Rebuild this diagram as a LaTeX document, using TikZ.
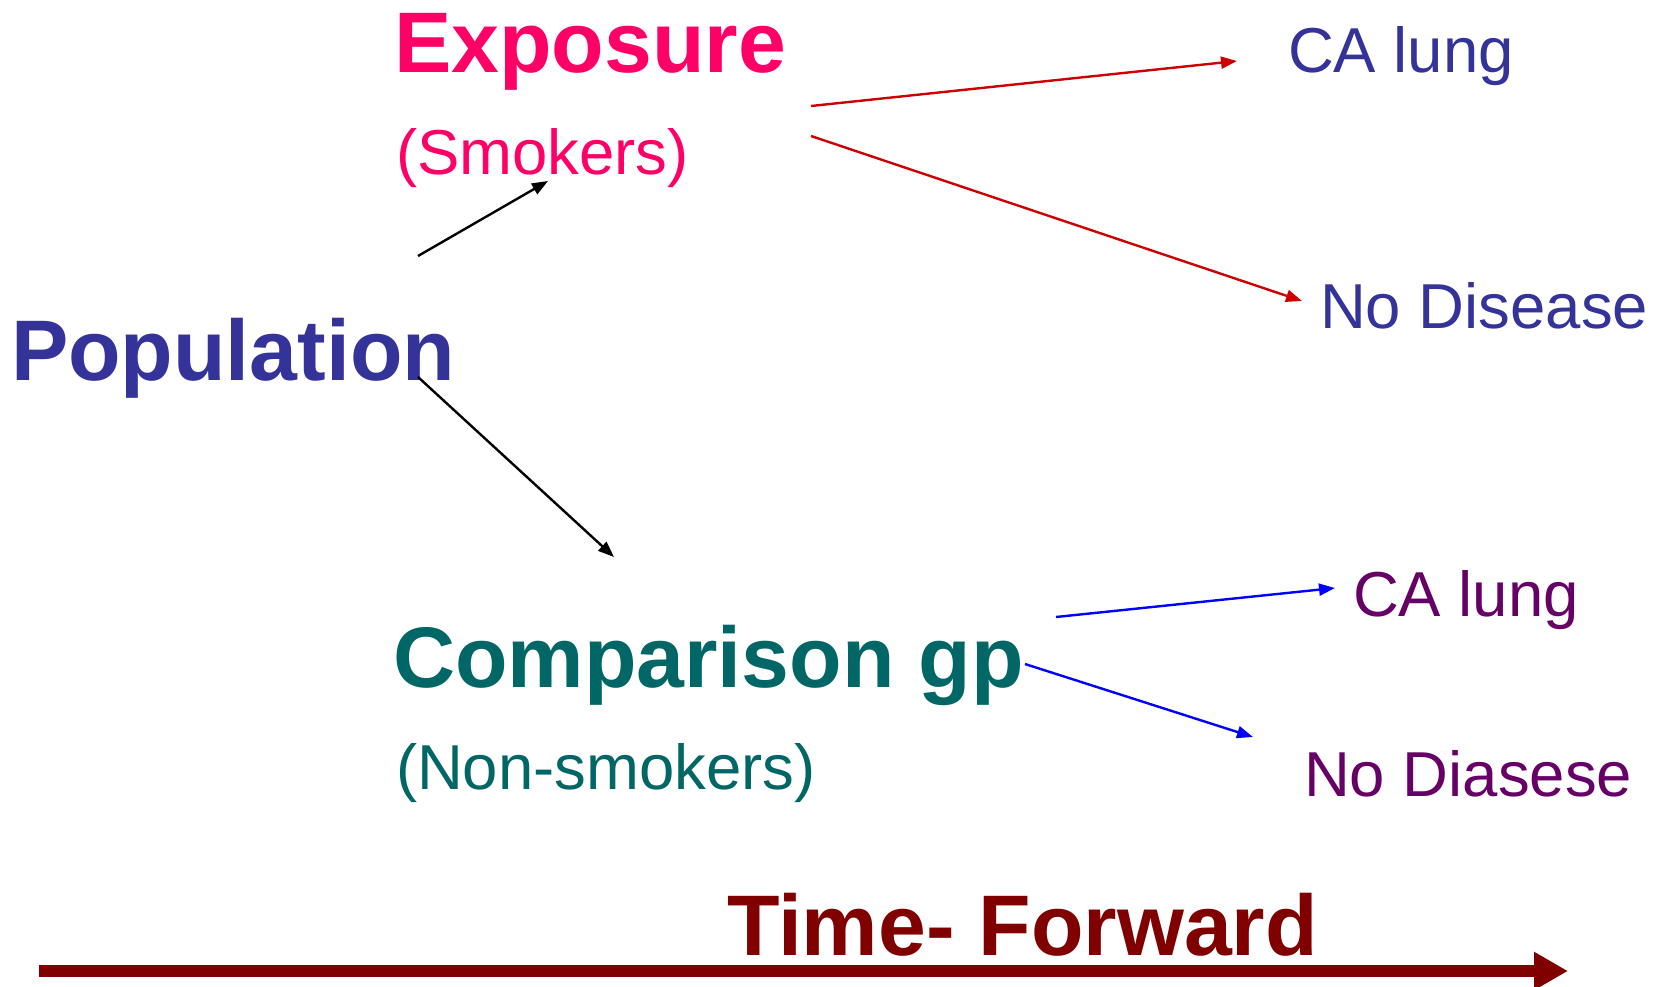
\documentclass[tikz,border=0pt]{standalone}
\usepackage{fontspec}
\setmainfont{Liberation Sans}
\usetikzlibrary{arrows.meta}
\definecolor{expcol}{HTML}{FF0066}
\definecolor{popcol}{HTML}{333399}
\definecolor{cmpcol}{HTML}{006666}
\definecolor{outcol}{HTML}{660066}
\definecolor{timecol}{HTML}{800000}
\definecolor{redarrow}{HTML}{CC0000}
\definecolor{bluearrow}{HTML}{0000FF}
\tikzset{
  lbl/.style={anchor=base west, inner sep=0pt, outer sep=0pt},
  bigbold/.style={lbl, font=\fontsize{86}{100}\selectfont\bfseries},
  sub/.style={lbl, font=\fontsize{63.5}{76}\selectfont},
  outcome/.style={lbl, font=\fontsize{63.5}{76}\selectfont},
  thinarrow/.style={line width=2.4pt, -{Triangle[length=16pt,width=12pt]}},
  timearrow/.style={timecol, line width=12pt, -{Triangle[length=34pt,width=36pt]}}
}
\begin{document}
\begin{tikzpicture}[x=1pt,y=-1pt]
\useasboundingbox (0,0) rectangle (1663,987);

% labels
\node[bigbold, text=popcol] (pop) at (11,380) {Population};
\node[bigbold, text=expcol] (expo) at (394,73) {Exposure};
\node[sub, text=expcol] (smk) at (396,175) {(Smokers)};
\node[bigbold, text=cmpcol] (cmp) at (393,687) {Comparison gp};
\node[sub, text=cmpcol] (nsm) at (396,789) {(Non-smokers)};
\node[outcome, text=popcol] (ca1) at (1288,73) {CA lung};
\node[outcome, text=popcol] (nd1) at (1320,328) {No Disease};
\node[outcome, text=outcol] (ca2) at (1353,616) {CA lung};
\node[outcome, text=outcol] (nd2) at (1304,796) {No Diasese};
\node[bigbold, text=timecol] (tf) at (727,955) {Time- Forward};

% connector end points
\coordinate (popA) at (418,256);
\coordinate (smkIn) at (548,181);
\coordinate (popB) at (418,377);
\coordinate (cmpIn) at (614,557);
\coordinate (expA) at (811,106);
\coordinate (ca1In) at (1237,61);
\coordinate (expB) at (811,136);
\coordinate (nd1In) at (1302,301);
\coordinate (cmpA) at (1056,617);
\coordinate (ca2In) at (1335,588);
\coordinate (cmpB) at (1025,664);
\coordinate (nd2In) at (1253,737);
\coordinate (tStart) at (39,971);
\coordinate (tEnd) at (1568,971);

% arrows from the population
\draw[thinarrow, black] (popA) -- (smkIn);
\draw[thinarrow, black] (popB) -- (cmpIn);
% outcomes of the exposed group
\draw[thinarrow, redarrow] (expA) -- (ca1In);
\draw[thinarrow, redarrow] (expB) -- (nd1In);
% outcomes of the comparison group
\draw[thinarrow, bluearrow] (cmpA) -- (ca2In);
\draw[thinarrow, bluearrow] (cmpB) -- (nd2In);
% time axis
\draw[timearrow] (tStart) -- (tEnd);
\end{tikzpicture}
\end{document}
